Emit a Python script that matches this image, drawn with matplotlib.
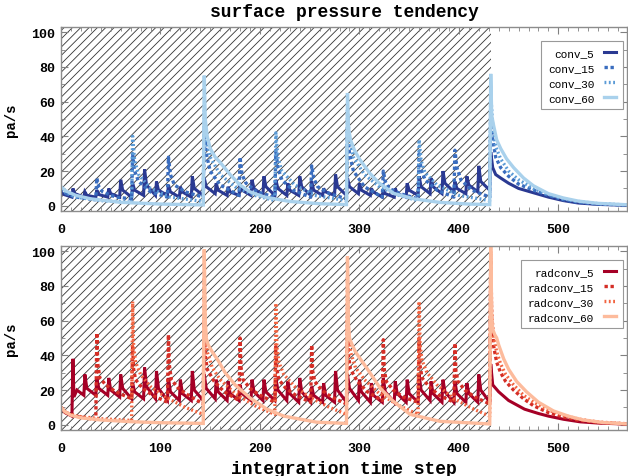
import matplotlib
matplotlib.use("Agg")
import matplotlib.pyplot as plt
from matplotlib.ticker import MultipleLocator

# ---------------- data (vertices) ----------------
conv_labels = ["conv_5", "conv_15", "conv_30", "conv_60"]
radconv_labels = ["radconv_5", "radconv_15", "radconv_30", "radconv_60"]

conv_5 = [(0, 8), (3, 6.5), (11, 5),
          (12, 10), (14, 7), (23, 5), (24, 8), (26, 6), (35, 5),
          (36, 9), (38, 6.5), (47, 5), (48, 10), (50, 7), (59, 5),
          (60, 15), (62, 9), (71, 5), (72, 13), (74, 9), (83, 6),
          (84, 21), (86, 12), (95, 6), (96, 14), (98, 9), (107, 6),
          (108, 12), (110, 8), (119, 5), (120, 11), (122, 8), (131, 5),
          (132, 17), (134, 10), (143, 6), (144, 16), (146, 11), (155, 7),
          (156, 13), (158, 9), (167, 6), (168, 11), (170, 8), (179, 6),
          (180, 12), (182, 9), (191, 6), (192, 15), (194, 10), (203, 6),
          (204, 17), (206, 11), (215, 6), (216, 15), (218, 10), (227, 6),
          (228, 13), (230, 9), (239, 6), (240, 17), (242, 11), (251, 6),
          (252, 14), (254, 9), (263, 6), (264, 10), (266, 8), (275, 6),
          (276, 18), (278, 11), (287, 6), (288, 16), (290, 11), (299, 7),
          (300, 13), (302, 9), (311, 6), (312, 10), (314, 8), (323, 5),
          (324, 9), (326, 7), (335, 5), (336, 10), (338, 7), (347, 5),
          (348, 13), (350, 9), (359, 6), (360, 17), (362, 11), (371, 7),
          (372, 16), (374, 11), (383, 7), (384, 20), (386, 13), (395, 8),
          (396, 14), (398, 10), (407, 7), (408, 17), (410, 12), (419, 8),
          (420, 23), (422, 14), (431, 9),
          (432, 31), (434, 22), (437, 18), (442, 16), (450, 13), (460, 10),
          (475, 7.5), (490, 5), (505, 3), (520, 1.6), (540, 0.8), (569, 0.3)]

conv_15 = [(0, 10), (5, 7), (15, 5), (35, 3.5),
           (36, 16), (38, 11), (42, 8), (55, 5), (71, 4),
           (72, 30), (74, 20), (78, 14), (90, 8), (107, 5),
           (108, 28), (110, 18), (114, 12), (125, 8), (143, 5),
           (144, 45), (146, 30), (150, 20), (160, 12), (179, 6),
           (180, 28), (182, 18), (186, 13), (197, 8), (215, 5),
           (216, 32), (218, 22), (222, 15), (233, 9), (251, 5),
           (252, 23), (254, 16), (258, 11), (270, 7), (287, 4),
           (288, 45), (290, 30), (294, 20), (305, 11), (323, 5),
           (324, 20), (326, 14), (330, 10), (341, 7), (359, 4),
           (360, 30), (362, 21), (366, 15), (378, 9), (395, 5),
           (396, 32), (398, 22), (402, 15), (413, 9), (431, 5),
           (432, 55), (434, 38), (437, 28), (442, 22), (450, 17), (460, 12.5),
           (475, 9), (490, 6), (505, 3.5), (520, 2), (540, 1), (569, 0.4)]

conv_30 = [(0, 10), (5, 7.5), (15, 5), (40, 3), (71, 2),
           (72, 40), (74, 26), (78, 18), (90, 10), (110, 5), (143, 2.5),
           (144, 55), (146, 38), (150, 28), (160, 18), (175, 11), (195, 6), (215, 3),
           (216, 42), (218, 28), (222, 20), (235, 12), (255, 6), (287, 3),
           (288, 55), (290, 38), (294, 28), (305, 18), (320, 11), (340, 6), (359, 3),
           (360, 38), (362, 26), (366, 19), (378, 12), (400, 6), (431, 3),
           (432, 65), (434, 45), (437, 34), (442, 27), (450, 20), (460, 15),
           (475, 10), (490, 6.5), (505, 4), (520, 2.5), (540, 1.2), (569, 0.5)]

conv_60 = [(0, 11), (5, 8.5), (15, 6), (30, 4), (60, 2), (100, 1), (143, 0.5),
           (144, 75), (145, 50), (147, 40), (150, 33), (155, 28), (160, 25),
           (170, 18), (180, 12), (190, 8), (205, 5), (230, 2.5), (260, 1.2), (287, 0.7),
           (288, 65), (289, 45), (291, 38), (295, 32), (300, 27), (310, 19),
           (320, 13), (335, 7), (355, 4), (380, 2), (410, 1), (431, 0.7),
           (432, 76), (433, 52), (435, 46), (438, 38), (442, 33), (448, 27),
           (455, 22), (465, 16), (475, 11.5), (490, 7), (505, 4.5), (520, 2.7),
           (540, 1.4), (569, 0.6)]

radconv_5 = [(0, 10), (4, 7), (11, 5),
             (12, 38), (13, 16), (16, 20), (23, 17),
             (24, 29), (26, 21), (35, 17), (36, 27), (38, 21), (47, 17),
             (48, 27), (50, 20), (59, 16), (60, 29), (62, 21), (71, 15),
             (72, 24), (74, 19), (83, 15), (84, 33), (86, 22), (95, 15),
             (96, 31), (98, 21), (107, 14), (108, 27), (110, 19), (119, 14),
             (120, 26), (122, 18), (131, 14), (132, 31), (134, 20), (143, 14),
             (144, 29), (146, 21), (155, 15), (156, 26), (158, 19), (167, 14),
             (168, 25), (170, 18), (179, 14), (180, 23), (182, 18), (191, 14),
             (192, 26), (194, 19), (203, 14), (204, 26), (206, 19), (215, 14),
             (216, 27), (218, 20), (227, 14), (228, 25), (230, 18), (239, 13),
             (240, 27), (242, 19), (251, 13), (252, 22), (254, 17), (263, 13),
             (264, 24), (266, 17), (275, 13), (276, 31), (278, 20), (287, 13),
             (288, 29), (290, 21), (299, 14), (300, 26), (302, 19), (311, 13),
             (312, 24), (314, 17), (323, 13), (324, 27), (326, 19), (335, 13),
             (336, 25), (338, 18), (347, 13), (348, 26), (350, 18), (359, 13),
             (360, 29), (362, 20), (371, 14), (372, 25), (374, 18), (383, 13),
             (384, 26), (386, 19), (395, 13), (396, 25), (398, 18), (407, 13),
             (408, 24), (410, 18), (419, 13), (420, 29), (422, 20), (431, 13),
             (432, 35), (434, 23), (437, 21), (440, 19), (450, 14), (466, 9),
             (480, 6.5), (490, 5), (505, 3.2), (522, 1.7), (540, 1), (569, 0.4)]

radconv_15 = [(0, 10), (5, 7), (15, 5), (35, 3),
              (36, 53), (37, 35), (39, 27), (45, 23), (55, 19), (71, 15),
              (72, 45), (73, 32), (75, 26), (82, 21), (92, 17), (107, 13),
              (108, 52), (109, 34), (111, 26), (118, 21), (128, 17), (143, 12),
              (144, 60), (145, 40), (147, 32), (154, 25), (164, 19), (179, 14),
              (180, 50), (181, 33), (183, 26), (190, 21), (200, 17), (215, 13),
              (216, 45), (217, 32), (219, 26), (226, 21), (236, 17), (251, 13),
              (252, 46), (253, 31), (255, 25), (262, 20), (272, 16), (287, 12),
              (288, 60), (289, 40), (291, 32), (298, 25), (308, 19), (323, 14),
              (324, 49), (325, 32), (327, 25), (334, 20), (344, 16), (359, 13),
              (360, 50), (361, 34), (363, 27), (370, 22), (380, 17), (395, 13),
              (396, 47), (397, 31), (399, 25), (406, 20), (416, 16), (431, 12),
              (432, 95), (433, 60), (435, 45), (438, 36), (442, 30), (447, 25),
              (455, 20), (465, 15), (475, 11), (490, 7), (505, 4.5), (520, 2.7),
              (540, 1.3), (569, 0.5)]

radconv_30 = [(0, 10), (5, 7), (15, 5), (40, 3.5), (71, 2.5),
              (72, 71), (73, 45), (75, 36), (80, 29), (90, 22), (105, 16), (125, 10), (143, 6),
              (144, 85), (145, 55), (147, 42), (152, 33), (160, 26), (175, 18), (195, 11), (215, 6),
              (216, 70), (217, 45), (219, 36), (224, 29), (235, 22), (250, 16), (270, 10), (287, 6),
              (288, 85), (289, 55), (291, 42), (296, 33), (305, 26), (320, 18), (340, 11), (359, 6),
              (360, 71), (361, 46), (363, 37), (368, 30), (378, 23), (395, 15), (415, 9), (431, 5),
              (432, 100), (433, 65), (435, 50), (438, 42), (442, 35), (447, 29),
              (455, 23), (465, 17), (475, 13), (490, 8.5), (505, 5.5), (520, 3.3),
              (540, 1.6), (569, 0.6)]

radconv_60 = [(0, 10), (4, 7.5), (10, 5.5), (20, 4), (40, 2.8), (70, 1.8), (100, 1.2), (143, 0.8),
              (144, 101), (145, 60), (146, 50), (148, 46), (152, 42), (158, 37),
              (165, 30), (175, 23), (190, 15.5), (207, 9), (224, 5), (257, 1.5), (287, 0.8),
              (288, 97), (289, 58), (290, 50), (292, 47), (296, 42), (302, 37),
              (307, 33), (321, 21), (334, 13.6), (351, 6), (381, 2), (431, 0.5),
              (432, 105), (433, 62), (434, 55), (436, 52), (438, 50), (440, 46),
              (445, 38), (450, 32), (458, 25), (468, 19), (480, 13), (495, 8),
              (510, 5), (525, 2.8), (545, 1.3), (569, 0.5)]

spinup_end = 432
x_ticks = [0, 100, 200, 300, 400, 500]
y_ticks = [0, 20, 40, 60, 80, 100]

# ---------------- styling ----------------
plt.rcParams["font.family"] = ["Liberation Mono", "DejaVu Sans Mono"]
plt.rcParams["hatch.linewidth"] = 0.6

conv_colors = ["#2a3992", "#3a6dbf", "#5b9bd6", "#a9d1ec"]
radconv_colors = ["#a50026", "#d42e26", "#f26440", "#fdbb9c"]
line_styles = [dict(ls="-", lw=2.2),
               dict(ls=(0, (1.0, 0.8)), lw=2.4),
               dict(ls=(0, (0.55, 0.75)), lw=2.4),
               dict(ls="-", lw=2.4)]

fig = plt.figure(figsize=(6.28, 4.77), dpi=100)
ax1 = fig.add_axes([61 / 628, 1 - 212 / 477, (627 - 61) / 628, (212 - 28) / 477])
ax2 = fig.add_axes([61 / 628, 1 - 431 / 477, (627 - 61) / 628, (431 - 247) / 477])

panels = [(ax1, [conv_5, conv_15, conv_30, conv_60], conv_labels, conv_colors),
          (ax2, [radconv_5, radconv_15, radconv_30, radconv_60], radconv_labels, radconv_colors)]

for ax, series, labels, colors in panels:
    ax.axvspan(0, spinup_end, facecolor="none", edgecolor="0.2", hatch="////",
               lw=0, zorder=0)
    for pts, lab, col, sty in zip(series, labels, colors, line_styles):
        xs, ys = zip(*pts)
        ax.plot(xs, ys, color=col, label=lab, dash_capstyle="butt",
                solid_joinstyle="miter", **sty)
    ax.set_xlim(0, 569)
    ax.set_ylim(-3, 103)
    ax.set_xticks(x_ticks)
    ax.set_yticks(y_ticks)
    ax.xaxis.set_minor_locator(MultipleLocator(10))
    ax.yaxis.set_minor_locator(MultipleLocator(10))
    ax.tick_params(which="both", direction="in", top=True, right=True,
                   color="0.5")
    ax.tick_params(which="major", length=5)
    ax.tick_params(which="minor", length=3)
    ax.tick_params(axis="x", pad=9, labelsize=9.5)
    ax.tick_params(axis="y", pad=4, labelsize=9.5)
    for lbl in ax.get_xticklabels() + ax.get_yticklabels():
        lbl.set_fontweight("bold")
    for sp in ax.spines.values():
        sp.set_color("0.55")
        sp.set_linewidth(1.0)
    ax.set_ylabel("pa/s", fontsize=10, fontweight="bold", labelpad=10)
    leg = ax.legend(loc="upper right", bbox_to_anchor=(0.993, 0.924),
                    borderaxespad=0, markerfirst=False, fancybox=False,
                    framealpha=1, edgecolor="0.6", fontsize=8,
                    handlelength=1.1, handletextpad=0.9, labelspacing=0.45,
                    borderpad=0.6)
    leg.get_frame().set_linewidth(0.8)

ax1.set_title("surface pressure tendency", fontsize=13, fontweight="bold", pad=8)
ax2.set_xlabel("integration time step", fontsize=13, fontweight="bold", labelpad=4)

fig.savefig("out.png", dpi=100)
